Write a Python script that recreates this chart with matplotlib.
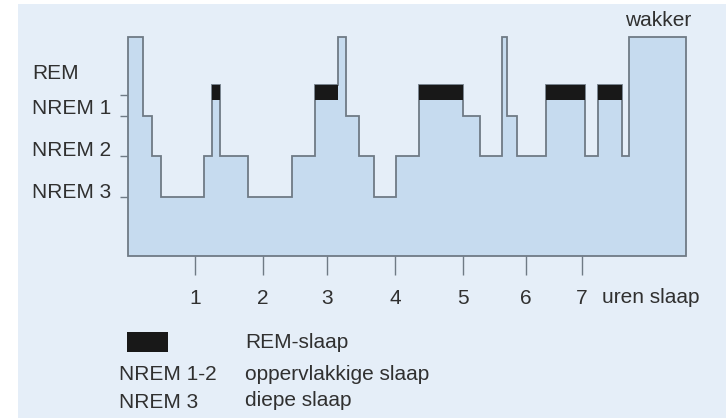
import matplotlib
matplotlib.use("Agg")
import matplotlib.pyplot as plt
from matplotlib.patches import Rectangle
from matplotlib.transforms import blended_transform_factory

# ---- data ----
# segment boundaries (hours of sleep) and the stage of each segment
boundaries_h = [0, 0.23, 0.36, 0.50, 1.15, 1.27, 1.39, 1.82, 2.48, 2.83, 3.18,
                3.30, 3.50, 3.73, 4.06, 4.41, 5.08, 5.33, 5.67, 5.74, 5.89,
                6.33, 6.92, 7.12, 7.48, 7.59, 8.45]
stages = ["W", "N1", "N2", "N3", "N2", "R", "N2", "N3", "N2", "R", "W",
          "N1", "N2", "N3", "N2", "R", "N1", "N2", "W", "N1", "N2",
          "R", "N2", "R", "N2", "W"]
stage_level = {"W": 4.95, "R": 3.77, "N1": 3.0, "N2": 2.0, "N3": 1.0}
rem_bar_bottom = 3.40
tick_positions = [1.015, 2.044, 3.013, 4.043, 5.073, 6.027, 6.875]
tick_labels = ["1", "2", "3", "4", "5", "6", "7"]
ytick_positions = [1.0, 2.0, 3.0, 3.52]
stage_labels = [("REM", 4.05), ("NREM 1", 3.18), ("NREM 2", 2.15), ("NREM 3", 1.12)]

BG = "#e5eef8"
FILL = "#c6dbef"
EDGE = "#6f7a85"
TXT = "#303030"
W, H = 726, 418

plt.rcParams["font.family"] = ["Liberation Sans", "DejaVu Sans"]
fig = plt.figure(figsize=(W / 100, H / 100), dpi=100, facecolor="white")
fig.patches.append(Rectangle((18 / W, 0), 1 - 18 / W, 1 - 4 / H,
                             transform=fig.transFigure, facecolor=BG,
                             edgecolor="none", zorder=-10))

ax = fig.add_axes([128 / W, 1 - 256 / H, (686 - 128) / W, (256 - 37) / H])
ax.set_zorder(5)
ax.set_facecolor("none")
ybot = -0.46
ax.set_xlim(0, 8.45)
ax.set_ylim(ybot, 4.95)

# step polygon
xs, ys = [0], [ybot]
for i, s in enumerate(stages):
    lv = stage_level[s]
    xs += [boundaries_h[i], boundaries_h[i + 1]]
    ys += [lv, lv]
xs += [boundaries_h[-1]]
ys += [ybot]
ax.fill(xs, ys, facecolor=FILL, edgecolor=EDGE, linewidth=1.3,
        joinstyle="miter", clip_on=False, zorder=2)

for i, s in enumerate(stages):
    if s == "R":
        ax.add_patch(Rectangle((boundaries_h[i], rem_bar_bottom),
                               boundaries_h[i + 1] - boundaries_h[i],
                               stage_level["R"] - rem_bar_bottom,
                               facecolor="#181818", edgecolor="none",
                               zorder=3, clip_on=False))

for sp in ax.spines.values():
    sp.set_visible(False)

ax.set_xticks(tick_positions)
ax.set_xticklabels(tick_labels)
ax.set_yticks(ytick_positions)
ax.set_yticklabels([])
ax.tick_params(axis="x", length=14, width=1, color=EDGE, pad=10,
               labelsize=15, labelcolor=TXT)
ax.tick_params(axis="y", length=6, width=1, color=EDGE, pad=2)

ytr = blended_transform_factory(fig.transFigure, ax.transData)
for lab, yv in stage_labels:
    ax.text(32 / W, yv, lab, transform=ytr, ha="left", va="center",
            fontsize=15, color=TXT)

fig.text(602 / W, 1 - 303 / H, "uren slaap", ha="left", va="baseline",
         fontsize=15, color=TXT)
fig.text(658 / W, 1 - 20 / H, "wakker", ha="center", va="center",
         fontsize=15, color=TXT)

# legend
fig.patches.append(Rectangle((127 / W, 1 - 352 / H), 41 / W, 20 / H,
                             transform=fig.transFigure, facecolor="#181818",
                             edgecolor="none", zorder=3))
fig.text(245 / W, 1 - 343 / H, "REM-slaap", ha="left", va="center",
         fontsize=15, color=TXT)
fig.text(119 / W, 1 - 375 / H, "NREM 1-2", ha="left", va="center",
         fontsize=15, color=TXT)
fig.text(245 / W, 1 - 375 / H, "oppervlakkige slaap", ha="left", va="center",
         fontsize=15, color=TXT)
fig.text(119 / W, 1 - 403 / H, "NREM 3", ha="left", va="center",
         fontsize=15, color=TXT)
fig.text(245 / W, 1 - 400 / H, "diepe slaap", ha="left", va="center",
         fontsize=15, color=TXT)

fig.savefig("out.png", dpi=100, facecolor="white")
